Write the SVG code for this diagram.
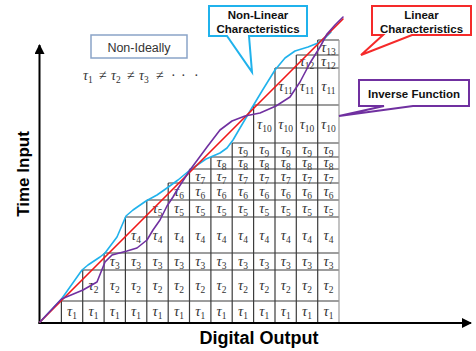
<svg xmlns="http://www.w3.org/2000/svg" width="476" height="351" viewBox="0 0 476 351">
  <defs>
    <marker id="arrow" viewBox="0 0 10 10" refX="9" refY="5" markerWidth="5" markerHeight="5" orient="auto" markerUnits="strokeWidth">
      <path d="M0,0 L10,5 L0,10 Z" fill="#000"/>
    </marker>
    <style>
      .axis { stroke:#000; stroke-width:2; fill:none; }
      .grid { stroke:#3c3c3c; stroke-width:1.2; fill:none; }
      .edge { stroke:#9a9a9a; stroke-width:1.2; fill:none; }
      .t { font-family:"Liberation Serif","DejaVu Serif",serif; font-style:italic; font-size:14.5px; fill:#333; text-anchor:middle; }
      .t tspan { font-style:normal; font-size:9.5px; }
      .f { font-family:"Liberation Serif","DejaVu Serif",serif; font-size:14px; fill:#333; }
      .f tspan.s { font-size:9.5px; }
      .label { font-family:"Liberation Sans",Arial,sans-serif; font-weight:bold; fill:#000; text-anchor:middle; }
      .call { font-family:"Liberation Sans",Arial,sans-serif; font-weight:bold; font-size:11.5px; fill:#111; text-anchor:middle; }
      .curve { fill:none; stroke-width:1.6; stroke-linejoin:round; stroke-linecap:round; }
    </style>
  </defs>
  <rect width="476" height="351" fill="#fff"/>

  <!-- staircase grid of time steps -->
  <g id="grid">
    <path class="grid" d="M61.4,301H339 M82.7,270H339 M104.1,253H339 M125.4,217H339 M146.8,200H339 M168.2,183H339 M189.5,169H339 M210.9,157H339 M232.2,143H339 M253.6,105H339 M275,68H339 M296.3,55H339 M317.7,40H339
      M61.4,322V301 M82.7,322V270 M104.1,322V253 M125.4,322V217 M146.8,322V200 M168.2,322V183 M189.5,322V169 M210.9,322V157 M232.2,322V143 M253.6,322V105 M275,322V68 M296.3,322V55 M317.7,322V40"/>
    <path class="edge" d="M339,322V40"/>
  </g>

  <g id="cell-labels">
    <!-- row 1 -->
    <text class="t" x="72" y="316">τ<tspan dy="3">1</tspan></text>
    <text class="t" x="93.4" y="316">τ<tspan dy="3">1</tspan></text>
    <text class="t" x="114.8" y="316">τ<tspan dy="3">1</tspan></text>
    <text class="t" x="136.1" y="316">τ<tspan dy="3">1</tspan></text>
    <text class="t" x="157.5" y="316">τ<tspan dy="3">1</tspan></text>
    <text class="t" x="178.9" y="316">τ<tspan dy="3">1</tspan></text>
    <text class="t" x="200.2" y="316">τ<tspan dy="3">1</tspan></text>
    <text class="t" x="221.6" y="316">τ<tspan dy="3">1</tspan></text>
    <text class="t" x="242.9" y="316">τ<tspan dy="3">1</tspan></text>
    <text class="t" x="264.3" y="316">τ<tspan dy="3">1</tspan></text>
    <text class="t" x="285.7" y="316">τ<tspan dy="3">1</tspan></text>
    <text class="t" x="307" y="316">τ<tspan dy="3">1</tspan></text>
    <text class="t" x="328.4" y="316">τ<tspan dy="3">1</tspan></text>
    <!-- row 2 -->
    <text class="t" x="93.4" y="290">τ<tspan dy="3">2</tspan></text>
    <text class="t" x="114.8" y="290">τ<tspan dy="3">2</tspan></text>
    <text class="t" x="136.1" y="290">τ<tspan dy="3">2</tspan></text>
    <text class="t" x="157.5" y="290">τ<tspan dy="3">2</tspan></text>
    <text class="t" x="178.9" y="290">τ<tspan dy="3">2</tspan></text>
    <text class="t" x="200.2" y="290">τ<tspan dy="3">2</tspan></text>
    <text class="t" x="221.6" y="290">τ<tspan dy="3">2</tspan></text>
    <text class="t" x="242.9" y="290">τ<tspan dy="3">2</tspan></text>
    <text class="t" x="264.3" y="290">τ<tspan dy="3">2</tspan></text>
    <text class="t" x="285.7" y="290">τ<tspan dy="3">2</tspan></text>
    <text class="t" x="307" y="290">τ<tspan dy="3">2</tspan></text>
    <text class="t" x="328.4" y="290">τ<tspan dy="3">2</tspan></text>
    <!-- row 3 -->
    <text class="t" x="114.8" y="266">τ<tspan dy="3">3</tspan></text>
    <text class="t" x="136.1" y="266">τ<tspan dy="3">3</tspan></text>
    <text class="t" x="157.5" y="266">τ<tspan dy="3">3</tspan></text>
    <text class="t" x="178.9" y="266">τ<tspan dy="3">3</tspan></text>
    <text class="t" x="200.2" y="266">τ<tspan dy="3">3</tspan></text>
    <text class="t" x="221.6" y="266">τ<tspan dy="3">3</tspan></text>
    <text class="t" x="242.9" y="266">τ<tspan dy="3">3</tspan></text>
    <text class="t" x="264.3" y="266">τ<tspan dy="3">3</tspan></text>
    <text class="t" x="285.7" y="266">τ<tspan dy="3">3</tspan></text>
    <text class="t" x="307" y="266">τ<tspan dy="3">3</tspan></text>
    <text class="t" x="328.4" y="266">τ<tspan dy="3">3</tspan></text>
    <!-- row 4 -->
    <text class="t" x="136.1" y="239.5">τ<tspan dy="3">4</tspan></text>
    <text class="t" x="157.5" y="239.5">τ<tspan dy="3">4</tspan></text>
    <text class="t" x="178.9" y="239.5">τ<tspan dy="3">4</tspan></text>
    <text class="t" x="200.2" y="239.5">τ<tspan dy="3">4</tspan></text>
    <text class="t" x="221.6" y="239.5">τ<tspan dy="3">4</tspan></text>
    <text class="t" x="242.9" y="239.5">τ<tspan dy="3">4</tspan></text>
    <text class="t" x="264.3" y="239.5">τ<tspan dy="3">4</tspan></text>
    <text class="t" x="285.7" y="239.5">τ<tspan dy="3">4</tspan></text>
    <text class="t" x="307" y="239.5">τ<tspan dy="3">4</tspan></text>
    <text class="t" x="328.4" y="239.5">τ<tspan dy="3">4</tspan></text>
    <!-- row 5 -->
    <text class="t" x="157.5" y="213">τ<tspan dy="3">5</tspan></text>
    <text class="t" x="178.9" y="213">τ<tspan dy="3">5</tspan></text>
    <text class="t" x="200.2" y="213">τ<tspan dy="3">5</tspan></text>
    <text class="t" x="221.6" y="213">τ<tspan dy="3">5</tspan></text>
    <text class="t" x="242.9" y="213">τ<tspan dy="3">5</tspan></text>
    <text class="t" x="264.3" y="213">τ<tspan dy="3">5</tspan></text>
    <text class="t" x="285.7" y="213">τ<tspan dy="3">5</tspan></text>
    <text class="t" x="307" y="213">τ<tspan dy="3">5</tspan></text>
    <text class="t" x="328.4" y="213">τ<tspan dy="3">5</tspan></text>
    <!-- row 6 -->
    <text class="t" x="178.9" y="196">τ<tspan dy="3">6</tspan></text>
    <text class="t" x="200.2" y="196">τ<tspan dy="3">6</tspan></text>
    <text class="t" x="221.6" y="196">τ<tspan dy="3">6</tspan></text>
    <text class="t" x="242.9" y="196">τ<tspan dy="3">6</tspan></text>
    <text class="t" x="264.3" y="196">τ<tspan dy="3">6</tspan></text>
    <text class="t" x="285.7" y="196">τ<tspan dy="3">6</tspan></text>
    <text class="t" x="307" y="196">τ<tspan dy="3">6</tspan></text>
    <text class="t" x="328.4" y="196">τ<tspan dy="3">6</tspan></text>
    <!-- row 7 -->
    <text class="t" x="200.2" y="180.5">τ<tspan dy="3">7</tspan></text>
    <text class="t" x="221.6" y="180.5">τ<tspan dy="3">7</tspan></text>
    <text class="t" x="242.9" y="180.5">τ<tspan dy="3">7</tspan></text>
    <text class="t" x="264.3" y="180.5">τ<tspan dy="3">7</tspan></text>
    <text class="t" x="285.7" y="180.5">τ<tspan dy="3">7</tspan></text>
    <text class="t" x="307" y="180.5">τ<tspan dy="3">7</tspan></text>
    <text class="t" x="328.4" y="180.5">τ<tspan dy="3">7</tspan></text>
    <!-- row 8 -->
    <text class="t" x="221.6" y="167">τ<tspan dy="3">8</tspan></text>
    <text class="t" x="242.9" y="167">τ<tspan dy="3">8</tspan></text>
    <text class="t" x="264.3" y="167">τ<tspan dy="3">8</tspan></text>
    <text class="t" x="285.7" y="167">τ<tspan dy="3">8</tspan></text>
    <text class="t" x="307" y="167">τ<tspan dy="3">8</tspan></text>
    <text class="t" x="328.4" y="167">τ<tspan dy="3">8</tspan></text>
    <!-- row 9 -->
    <text class="t" x="242.9" y="154">τ<tspan dy="3">9</tspan></text>
    <text class="t" x="264.3" y="154">τ<tspan dy="3">9</tspan></text>
    <text class="t" x="285.7" y="154">τ<tspan dy="3">9</tspan></text>
    <text class="t" x="307" y="154">τ<tspan dy="3">9</tspan></text>
    <text class="t" x="328.4" y="154">τ<tspan dy="3">9</tspan></text>
    <!-- row 10 -->
    <text class="t" x="264.3" y="128.5">τ<tspan dy="3">10</tspan></text>
    <text class="t" x="285.7" y="128.5">τ<tspan dy="3">10</tspan></text>
    <text class="t" x="307" y="128.5">τ<tspan dy="3">10</tspan></text>
    <text class="t" x="328.4" y="128.5">τ<tspan dy="3">10</tspan></text>
    <!-- row 11 -->
    <text class="t" x="285.7" y="91">τ<tspan dy="3">11</tspan></text>
    <text class="t" x="307" y="91">τ<tspan dy="3">11</tspan></text>
    <text class="t" x="328.4" y="91">τ<tspan dy="3">11</tspan></text>
    <!-- row 12 -->
    <text class="t" x="307" y="66">τ<tspan dy="3">12</tspan></text>
    <text class="t" x="328.4" y="66">τ<tspan dy="3">12</tspan></text>
    <!-- row 13 -->
    <text class="t" x="328.4" y="52">τ<tspan dy="3">13</tspan></text>
  </g>

  <!-- axes -->
  <g id="axes">
    <path class="axis" d="M39.5,324 V45" marker-end="url(#arrow)"/>
    <path class="axis" d="M38.5,323 H471" marker-end="url(#arrow)"/>
    <text class="label" font-size="17" transform="translate(29,174) rotate(-90)">Time Input</text>
    <text class="label" font-size="18" x="259" y="344">Digital Output</text>
  </g>

  <!-- transfer curves -->
  <g id="connectors">
    <polyline class="curve" stroke="#20b2ec" points="40,322 61.5,299 82,270 88,265 100,257 105,253 117,237 126,216 133,210 146,201 157,195 167,188 178,180 190,170 206,159 220,153 227,148 233,140 240,128 253,106 262,91 275,70 285,58 295,51 308,47 318,43 326,37 331,32"/>
    <polyline class="curve" stroke="#f01818" points="40,322 343,19"/>
    <polyline class="curve" stroke="#7030a0" points="40,322 61.5,299 83,290 97,282 105,262 112,255 127,251 137,248 147,240 153,230 160,220 167,206 173,197 177,190 190,170 207,147 220,130 232,121 245,116 260,113 276,106 290,97 300,82 310,63 320,47 327,34 335,25 343,17"/>
  </g>

  <!-- annotation: non-ideal steps -->
  <g id="non-ideally">
    <rect x="91" y="35" width="96" height="23" fill="#fff" stroke="#8aa4c8" stroke-width="1.5"/>
    <text x="139" y="51.5" font-family="Liberation Sans, Arial, sans-serif" font-size="12.5" fill="#333" text-anchor="middle">Non-Ideally</text>
  </g>

  <g id="inequality">
    <text class="f" x="83" y="80"><tspan font-style="italic">τ</tspan><tspan class="s" dy="3">1</tspan></text>
    <text class="f" x="99" y="80">≠</text>
    <text class="f" x="111" y="80"><tspan font-style="italic">τ</tspan><tspan class="s" dy="3">2</tspan></text>
    <text class="f" x="127" y="80">≠</text>
    <text class="f" x="139" y="80"><tspan font-style="italic">τ</tspan><tspan class="s" dy="3">3</tspan></text>
    <text class="f" x="156" y="80">≠</text>
    <text class="f" x="171" y="80">·</text>
    <text class="f" x="181" y="80">·</text>
    <text class="f" x="194" y="80">·</text>
  </g>

  <!-- callouts -->
  <g id="callout-nonlinear">
    <path d="M209,6 H307 V36 H249 L252,72 L227,36 H209 Z" fill="#fff" stroke="#20b2ec" stroke-width="2" stroke-linejoin="miter"/>
    <text class="call" x="258" y="18.5">Non-Linear</text>
    <text class="call" x="258" y="32.5">Characteristics</text>
  </g>

  <g id="callout-linear">
    <path d="M372,6 H471 V35 H412 L361,55 L383,35 H372 Z" fill="#fff" stroke="#f52a2a" stroke-width="2"/>
    <text class="call" x="421.5" y="18.5">Linear</text>
    <text class="call" x="421.5" y="32.5">Characteristics</text>
  </g>

  <g id="callout-inverse">
    <path d="M359,80 H469 V106 H413 L339,116 L384,106 H359 Z" fill="#fff" stroke="#7030a0" stroke-width="2"/>
    <text class="call" x="414" y="97.5">Inverse Function</text>
  </g>
</svg>
